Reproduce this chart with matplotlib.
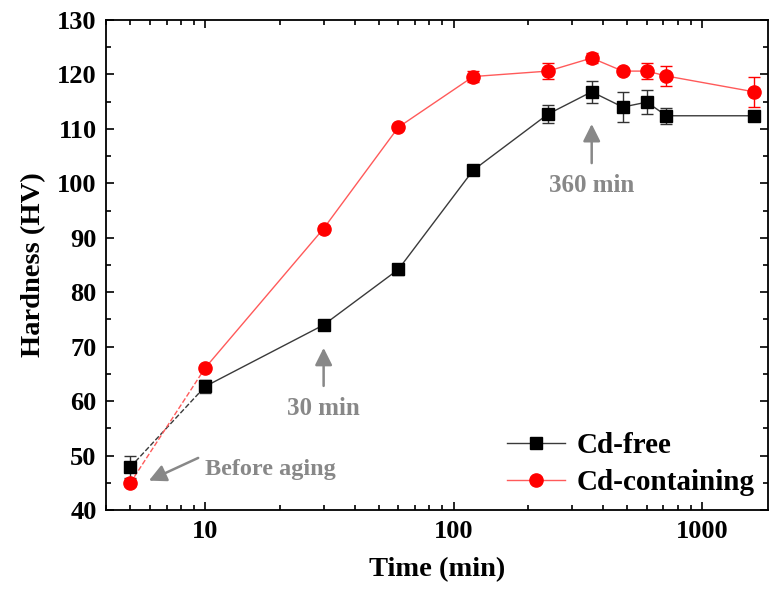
import matplotlib.pyplot as plt
from matplotlib.ticker import MultipleLocator, FixedLocator, FixedFormatter

plt.rcParams['font.family'] = ['Liberation Serif', 'DejaVu Serif']
plt.rcParams['font.weight'] = 'bold'

# aging time (min); 5 stands for "before aging"
time = [5, 10, 30, 60, 120, 240, 360, 480, 600, 720, 1620]
cd_free = [47.9, 62.7, 74.0, 84.2, 102.4, 112.7, 116.8, 114.0, 114.9, 112.4, 112.4]
cd_free_err = [2.0, 1.2, 0.5, 1.0, 0.5, 1.6, 2.0, 2.7, 2.2, 1.5, 0.5]
cd_cont = [45.0, 66.1, 91.7, 110.3, 119.6, 120.6, 123.0, 120.6, 120.6, 119.7, 116.8]
cd_cont_err = [0.6, 0.4, 0.4, 0.4, 1.0, 1.4, 1.0, 0.5, 1.4, 1.9, 2.7]

fig = plt.figure(figsize=(7.7, 6.03), dpi=100)
ax = fig.add_axes([0.138, 0.154, 0.859, 0.813])

black_line = '#3a3a3a'
red_line = '#ff5a5a'

# dashed part: before aging -> 10 min
ax.plot(time[:2], cd_free[:2], ls='--', color=black_line, lw=1.0)
ax.plot(time[:2], cd_cont[:2], ls='--', color=red_line, lw=1.0)

# solid part
ax.plot(time[1:], cd_free[1:], '-', color=black_line, lw=1.0)
ax.plot(time[1:], cd_cont[1:], '-', color=red_line, lw=1.0)

ax.errorbar(time, cd_free, yerr=cd_free_err, fmt='s', color='black', ms=8.5,
            ecolor='#333333', elinewidth=1.0, capsize=4, capthick=1.0, zorder=3)
ax.errorbar(time, cd_cont, yerr=cd_cont_err, fmt='o', color='red', ms=9.5,
            ecolor='red', elinewidth=1.0, capsize=4, capthick=1.0, zorder=4)

# legend handles
h1, = ax.plot([], [], '-s', color=black_line, mfc='black', mec='black', ms=8.5, lw=1.0)
h2, = ax.plot([], [], '-o', color=red_line, mfc='red', mec='red', ms=9.5, lw=1.0)
ax.legend([h1, h2], ['Cd-free', 'Cd-containing'], loc='lower right',
          bbox_to_anchor=(1.02, -0.025), frameon=False, fontsize=21,
          handlelength=2.0, handletextpad=0.4, labelspacing=0.35)

ax.set_xscale('log')
ax.set_xlim(4, 1840)
ax.set_ylim(40, 130)
ax.yaxis.set_major_locator(MultipleLocator(10))
ax.yaxis.set_minor_locator(MultipleLocator(5))
ax.xaxis.set_major_locator(FixedLocator([10, 100, 1000]))
ax.xaxis.set_major_formatter(FixedFormatter(['10', '100', '1000']))

ax.tick_params(which='both', direction='in', top=True, right=True, width=1.2)
ax.tick_params(which='major', length=6, labelsize=19, pad=7)
ax.tick_params(which='minor', length=3.5)
for lab in ax.get_xticklabels() + ax.get_yticklabels():
    lab.set_fontweight('bold')
for sp in ax.spines.values():
    sp.set_linewidth(1.3)

ax.set_xlabel('Time (min)', fontsize=20.5, fontweight='bold', labelpad=10)
ax.set_ylabel('Hardness (HV)', fontsize=20.5, fontweight='bold', labelpad=8)

grey = '#888888'
arrow = dict(arrowstyle='-|>', color=grey, lw=1.8, mutation_scale=26)
ax.annotate('', xy=(5.8, 45.2), xytext=(9.6, 49.8), arrowprops=arrow)
ax.text(10.0, 47.5, 'Before aging', color=grey, fontsize=17.5,
        fontweight='bold', ha='left', va='center')
ax.annotate('', xy=(30, 70.3), xytext=(30, 62.3), arrowprops=arrow)
ax.text(30, 58.7, '30 min', color=grey, fontsize=18, fontweight='bold',
        ha='center', va='center')
ax.annotate('', xy=(360, 111.4), xytext=(360, 103.2), arrowprops=arrow)
ax.text(360, 99.6, '360 min', color=grey, fontsize=18, fontweight='bold',
        ha='center', va='center')

fig.savefig('out.png', dpi=100)
